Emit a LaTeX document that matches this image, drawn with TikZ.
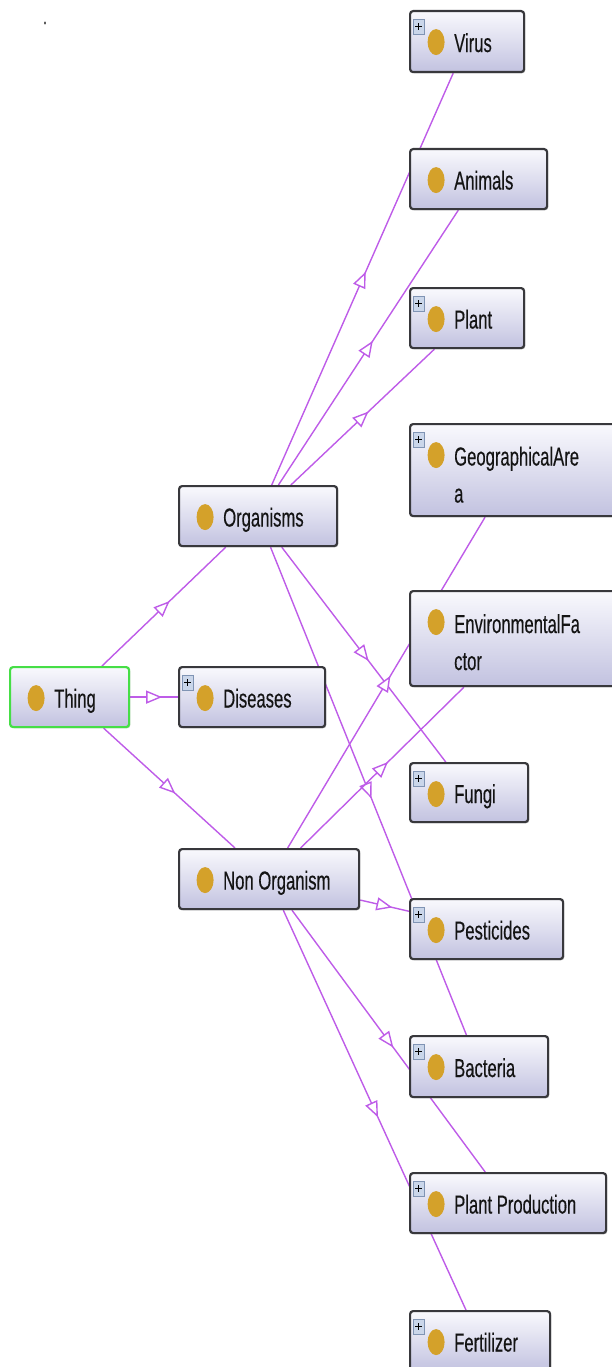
\documentclass[tikz,border=0pt]{standalone}
\usepackage{fontspec}
\newfontfamily\grafont[FakeStretch=0.64, FakeBold=0.3]{Liberation Sans}
\usetikzlibrary{positioning, arrows.meta, decorations.markings, shadows}
\definecolor{lien}{RGB}{190,92,232}
\definecolor{ocre}{RGB}{212,161,42}
\definecolor{bord}{RGB}{56,56,60}
\definecolor{haut}{RGB}{249,249,253}
\definecolor{bas}{RGB}{194,194,224}
\definecolor{vert}{RGB}{70,222,70}
\definecolor{icone}{RGB}{202,214,234}
\definecolor{iconebord}{RGB}{128,148,180}
\pgfdeclarelayer{fond}
\pgfsetlayers{fond,main}

\begin{document}
\begin{tikzpicture}[x=1pt, y=-1pt,
    classe/.style={draw=bord, line width=2.2pt, rounded corners=3pt,
        top color=haut, bottom color=bas, anchor=north west, inner sep=0pt,
        drop shadow={shadow xshift=1.2pt, shadow yshift=-1.2pt, opacity=0.35},
        path picture={\fill[ocre] ([xshift=26pt,yshift=-31pt]path picture bounding box.north west)
            ellipse [x radius=8.5pt, y radius=13pt];}},
    classeplus/.style={classe,
        path picture={\fill[ocre] ([xshift=26pt,yshift=-31pt]path picture bounding box.north west)
            ellipse [x radius=8.5pt, y radius=13pt];
          \filldraw[fill=icone, draw=iconebord, line width=0.8pt, sharp corners]
            ([xshift=3pt,yshift=-8pt]path picture bounding box.north west) rectangle ++(11pt,-15pt);
          \draw[black, line width=1.2pt, sharp corners]
            ([xshift=5pt,yshift=-15.5pt]path picture bounding box.north west) -- ++(7pt,0pt)
            ([xshift=8.5pt,yshift=-12pt]path picture bounding box.north west) -- ++(0pt,-7pt);}},
    racine/.style={classe, draw=vert},
    txt/.style={inner sep=0pt, align=left, text depth=0pt, text=black!92,
        font=\grafont\fontsize{26}{37}\selectfont},
    lien/.style={draw=lien, line width=1.4pt, postaction={decorate},
        decoration={markings, mark=at position 0.5 with
            {\arrow[xshift=8pt]{Triangle[length=16pt, width=13pt, fill=white]}}}}]

    \useasboundingbox (0,0) rectangle (611,1367);

    % --- Point isolé en haut à gauche ---
    \node[txt, font=\grafont\fontsize{20}{20}\selectfont] (point) at (45,23) {.};

    % --- Racine et premier niveau ---
    \node[racine, minimum width=119pt, minimum height=60pt] (thing) at (9,666) {};
    \node[txt, right=45pt of thing.west, yshift=-1pt] (t-thing) {Thing};

    \node[classe, minimum width=158pt, minimum height=60pt] (organisms) at (178,485) {};
    \node[txt, right=45pt of organisms.west, yshift=-1pt] (t-organisms) {Organisms};

    \node[classeplus, minimum width=146pt, minimum height=60pt] (diseases) at (178,666) {};
    \node[txt, right=45pt of diseases.west, yshift=-1pt] (t-diseases) {Diseases};

    \node[classe, minimum width=180pt, minimum height=60pt] (nonorganism) at (178,848) {};
    \node[txt, right=45pt of nonorganism.west, yshift=-1pt] (t-nonorganism) {Non Organism};

    % --- Colonne de droite ---
    \node[classeplus, minimum width=114pt, minimum height=61pt] (virus) at (409,10) {};
    \node[txt, right=45pt of virus.west, yshift=-1pt] (t-virus) {Virus};

    \node[classe, minimum width=137pt, minimum height=60pt] (animals) at (409,148) {};
    \node[txt, right=45pt of animals.west, yshift=-1pt] (t-animals) {Animals};

    \node[classeplus, minimum width=114pt, minimum height=60pt] (plant) at (409,287) {};
    \node[txt, right=45pt of plant.west, yshift=-1pt] (t-plant) {Plant};

    \node[classeplus, minimum width=206pt, minimum height=92pt] (geoarea) at (409,423) {};
    \node[txt, right=45pt of geoarea.west, yshift=-4.5pt] (t-geoarea) {GeographicalAre\\a};

    \node[classe, minimum width=206pt, minimum height=95pt] (envfactor) at (409,590) {};
    \node[txt, right=45pt of envfactor.west, yshift=-3.5pt] (t-envfactor) {EnvironmentalFa\\ctor};

    \node[classeplus, minimum width=118pt, minimum height=59pt] (fungi) at (409,762) {};
    \node[txt, right=45pt of fungi.west, yshift=-1pt] (t-fungi) {Fungi};

    \node[classeplus, minimum width=153pt, minimum height=60pt] (pesticides) at (409,898) {};
    \node[txt, right=45pt of pesticides.west, yshift=-1pt] (t-pesticides) {Pesticides};

    \node[classeplus, minimum width=138pt, minimum height=61pt] (bacteria) at (409,1035) {};
    \node[txt, right=45pt of bacteria.west, yshift=-1pt] (t-bacteria) {Bacteria};

    \node[classeplus, minimum width=196pt, minimum height=60pt] (plantprod) at (409,1172) {};
    \node[txt, right=45pt of plantprod.west, yshift=-1pt] (t-plantprod) {Plant Production};

    \node[classeplus, minimum width=140pt, minimum height=60pt] (fertilizer) at (409,1310) {};
    \node[txt, right=45pt of fertilizer.west, yshift=-1pt] (t-fertilizer) {Fertilizer};

    % --- Liens de sous-classe (sous les boîtes) ---
    \begin{pgfonlayer}{fond}
        \draw[lien] (thing) -- (organisms);
        \draw[lien] (thing) -- (diseases);
        \draw[lien] (thing) -- (nonorganism);

        \draw[lien] (organisms) -- (virus);
        \draw[lien] (organisms) -- (animals);
        \draw[lien] (organisms) -- (plant);
        \draw[lien] (organisms) -- (fungi);
        \draw[lien] (organisms) -- (bacteria);

        \draw[lien] (nonorganism) -- (geoarea);
        \draw[lien] (nonorganism) -- (envfactor);
        \draw[lien] (nonorganism) -- (pesticides);
        \draw[lien] (nonorganism) -- (plantprod);
        \draw[lien] (nonorganism) -- (fertilizer);
    \end{pgfonlayer}
\end{tikzpicture}
\end{document}
